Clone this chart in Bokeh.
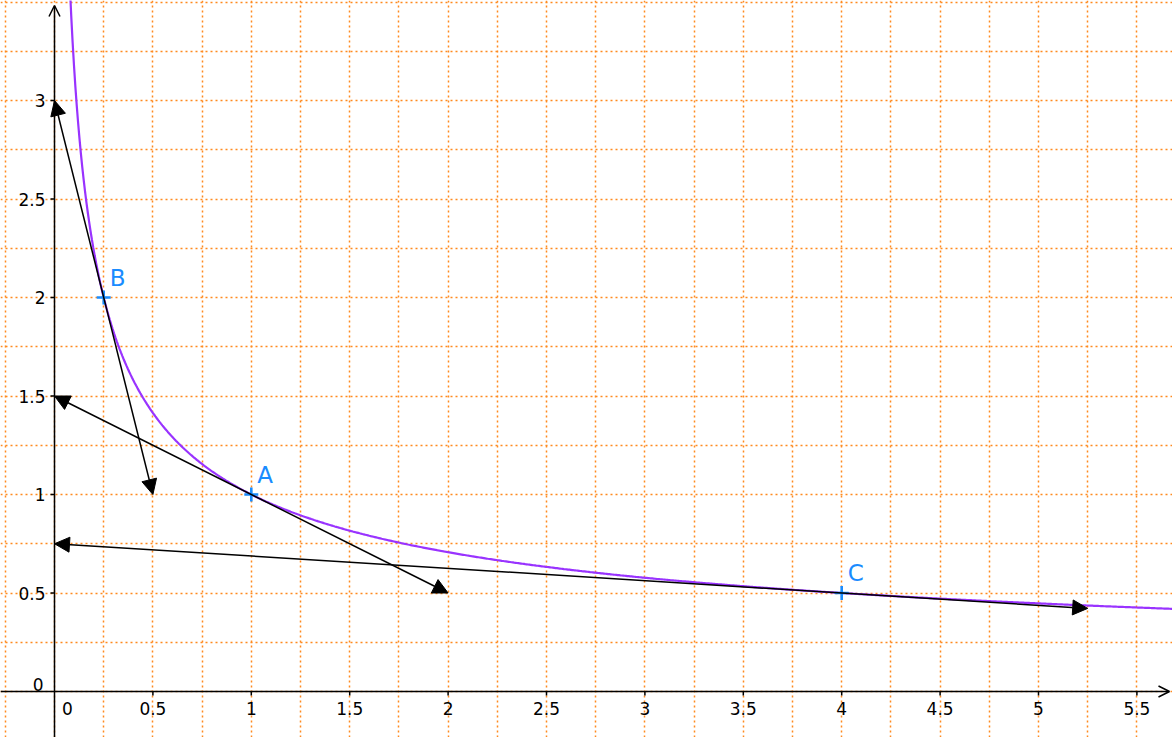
import numpy as np
from bokeh.plotting import figure
from bokeh.models import Range1d, SingleIntervalTicker, Arrow, NormalHead, OpenHead
from bokeh.core.properties import value
from bokeh.embed import file_html
from bokeh.resources import INLINE

# ---- data ----
point_names = ["A", "B", "C"]
point_x = [1.0, 0.25, 4.0]
point_y = [1.0, 2.0, 0.5]
# tangent segments (start/end) through A, B, C
tan_x0 = [0.0, 0.0, 0.0]
tan_y0 = [1.5, 3.0, 0.75]
tan_x1 = [2.0, 0.5, 5.25]
tan_y1 = [0.5, 1.0, 0.421875]
x_tick_vals = [0.5, 1, 1.5, 2, 2.5, 3, 3.5, 4, 4.5, 5, 5.5]
x_tick_labels = ["0.5", "1", "1.5", "2", "2.5", "3", "3.5", "4", "4.5", "5", "5.5"]
y_tick_vals = [0.5, 1, 1.5, 2, 2.5, 3]
y_tick_labels = ["0.5", "1", "1.5", "2", "2.5", "3"]

W, H = 1172, 737
SX = 196.8  # px per unit
SY = 197.0
OX, OY = 54, 691  # origin in pixels
X0, X1 = -OX / SX, (W - OX) / SX
Y0, Y1 = (OY - H) / SY, OY / SY

p = figure(width=W, height=H, output_backend="svg", toolbar_location=None,
           x_range=Range1d(X0, X1), y_range=Range1d(Y0, Y1),
           x_axis_location=None, y_axis_location=None, min_border=0)
p.outline_line_color = None
p.background_fill_color = "white"
p.border_fill_color = "white"

for g in (p.xgrid, p.ygrid):
    g.ticker = SingleIntervalTicker(interval=0.25)
    g.grid_line_color = "#ff8a1f"
    g.grid_line_dash = "2 3"
    g.grid_line_width = 1.5
    g.grid_line_alpha = 1.0

font = value("DejaVu Sans")

# axes with open arrowheads
p.add_layout(Arrow(end=OpenHead(size=11, line_width=1.5, line_color="black"),
                   x_start=X0, y_start=0, x_end=X1 - 3 / SX, y_end=0,
                   line_width=1.5, line_color="black"))
p.add_layout(Arrow(end=OpenHead(size=11, line_width=1.5, line_color="black"),
                   x_start=0, y_start=Y0, x_end=0, y_end=Y1 - 5 / SY,
                   line_width=1.5, line_color="black"))

# tick marks
xt = np.array(x_tick_vals, dtype=float)
yt = np.array(y_tick_vals, dtype=float)
p.segment(x0=xt, y0=np.zeros_like(xt), x1=xt, y1=np.full_like(xt, -4 / SY),
          line_color="black", line_width=1.5)
p.segment(x0=np.zeros_like(yt), y0=yt, x1=np.full_like(yt, -4 / SX), y1=yt,
          line_color="black", line_width=1.5)

# tick labels
p.text(x=xt, y=np.full_like(xt, -10 / SY), text=x_tick_labels, text_align="center",
       text_baseline="top", text_font=font, text_font_size="17px", text_color="black")
p.text(x=[13 / SX], y=[-10 / SY], text=["0"], text_align="center",
       text_baseline="top", text_font=font, text_font_size="17px", text_color="black")
p.text(x=np.full_like(yt, -9 / SX), y=yt, text=y_tick_labels, text_align="right",
       text_baseline="middle", text_font=font, text_font_size="17px", text_color="black")
p.text(x=[-11 / SX], y=[1 / SY], text=["0"], text_align="right",
       text_baseline="bottom", text_font=font, text_font_size="17px", text_color="black")

# curve y = 1/sqrt(x)
cx = np.linspace(0.078, X1, 800)
p.line(cx, 1 / np.sqrt(cx), line_color="#9933ff", line_width=2.2)

# tangent arrows (filled heads at both ends)
for a, b, c, d in zip(tan_x0, tan_y0, tan_x1, tan_y1):
    p.add_layout(Arrow(start=NormalHead(size=15, fill_color="black", line_color="black"),
                       end=NormalHead(size=15, fill_color="black", line_color="black"),
                       x_start=a, y_start=b, x_end=c, y_end=d,
                       line_width=1.5, line_color="black"))

# points
p.scatter(point_x, point_y, marker="cross", size=14, line_width=2.6, line_color="#1a8cff")
p.text(x=np.array(point_x) + 6 / SX, y=np.array(point_y) + 7 / SY, text=point_names,
       text_align="left", text_baseline="bottom", text_font=font,
       text_font_size="23px", text_color="#1a8cff")

open("out.html", "w").write(file_html(p, INLINE))
